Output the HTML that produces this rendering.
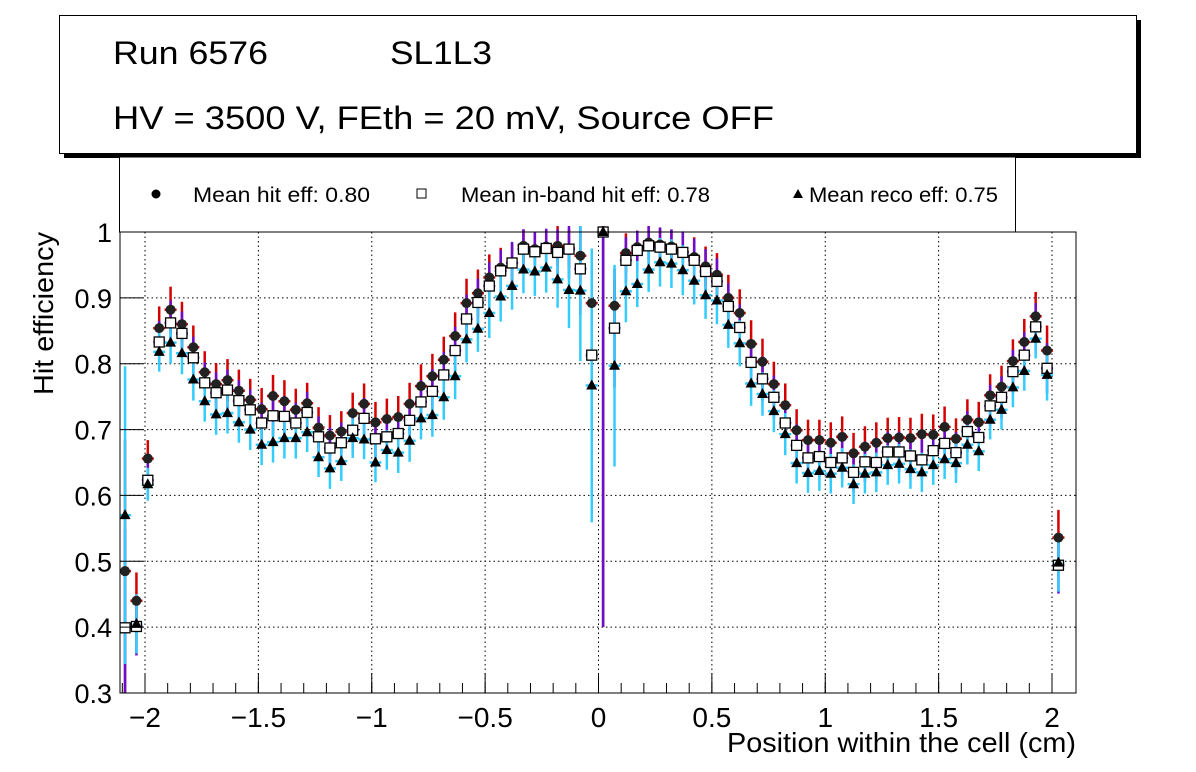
<!DOCTYPE html>
<html><head><meta charset="utf-8"><style>
html,body{margin:0;padding:0;background:#fff;}
svg{display:block;font-family:"Liberation Sans",sans-serif;}
</style></head><body>
<svg id="chart" width="1196" height="772" viewBox="0 0 1196 772" xmlns="http://www.w3.org/2000/svg">
<rect x="0" y="0" width="1196" height="772" fill="#fff"/>
<g>
<rect x="64" y="20" width="1077" height="138" fill="#000"/>
<rect x="59.5" y="15.5" width="1077" height="138" fill="#fff" stroke="#000" stroke-width="1"/>
<text x="113" y="64" font-size="32" textLength="155" lengthAdjust="spacingAndGlyphs">Run 6576</text>
<text x="390" y="64" font-size="32" textLength="102" lengthAdjust="spacingAndGlyphs">SL1L3</text>
<text x="113" y="129" font-size="32" textLength="661" lengthAdjust="spacingAndGlyphs">HV = 3500 V, FEth = 20 mV, Source OFF</text>
</g>
<g>
<rect x="119.5" y="157" width="896" height="75" fill="#fff" stroke="#000" stroke-width="1"/>
<circle cx="156" cy="194" r="4.5" fill="#000"/>
<text x="193" y="202" font-size="21" textLength="177" lengthAdjust="spacingAndGlyphs">Mean hit  eff: 0.80</text>
<rect x="417" y="189" width="9" height="9" fill="#fff" stroke="#000"/>
<text x="461" y="202" font-size="21" textLength="249" lengthAdjust="spacingAndGlyphs">Mean in-band hit eff: 0.78</text>
<polygon points="798,189 793,198 803,198" fill="#000"/>
<text x="809" y="202" font-size="21" textLength="189" lengthAdjust="spacingAndGlyphs">Mean reco eff: 0.75</text>
</g>
<g id="grid"></g>
<g id="marks"></g>
<g id="axes"></g>
<text transform="translate(53,232) rotate(-90)" text-anchor="end" font-size="28" textLength="163" lengthAdjust="spacingAndGlyphs">Hit efficiency</text>
<text x="1076" y="752" text-anchor="end" font-size="28" textLength="349" lengthAdjust="spacingAndGlyphs">Position within the cell (cm)</text>
</svg>
<script>
const hitEff=[0.485,0.440,0.656,0.854,0.882,0.860,0.825,0.787,0.769,0.775,0.759,0.745,0.731,0.751,0.743,0.730,0.740,0.703,0.691,0.697,0.725,0.739,0.711,0.716,0.719,0.739,0.766,0.781,0.806,0.842,0.892,0.907,0.931,0.946,0.953,0.979,0.974,0.978,0.979,0.975,0.964,0.892,1.0,0.888,0.968,0.977,0.984,0.981,0.978,0.970,0.962,0.948,0.935,0.900,0.877,0.830,0.803,0.769,0.737,0.699,0.684,0.684,0.680,0.689,0.664,0.674,0.680,0.687,0.688,0.687,0.693,0.692,0.704,0.686,0.715,0.711,0.752,0.765,0.804,0.833,0.872,0.820,0.536];
const bandEff=[0.399,0.401,0.623,0.833,0.862,0.846,0.809,0.771,0.756,0.760,0.744,0.730,0.710,0.721,0.720,0.710,0.726,0.689,0.672,0.680,0.699,0.717,0.686,0.689,0.694,0.714,0.742,0.758,0.783,0.820,0.868,0.893,0.918,0.941,0.953,0.974,0.970,0.975,0.969,0.974,0.944,0.813,1.0,0.854,0.957,0.972,0.979,0.977,0.974,0.969,0.957,0.940,0.925,0.887,0.855,0.802,0.777,0.749,0.710,0.676,0.657,0.659,0.650,0.657,0.635,0.651,0.650,0.666,0.666,0.660,0.654,0.668,0.679,0.665,0.697,0.688,0.736,0.749,0.788,0.813,0.856,0.793,0.494];
const recoEff=[0.570,0.405,0.617,0.818,0.832,0.816,0.776,0.743,0.723,0.725,0.711,0.700,0.677,0.681,0.687,0.687,0.696,0.658,0.641,0.652,0.687,0.685,0.650,0.669,0.665,0.683,0.717,0.722,0.749,0.781,0.837,0.853,0.877,0.902,0.918,0.943,0.940,0.946,0.928,0.912,0.911,0.767,1.0,0.797,0.910,0.921,0.943,0.954,0.952,0.942,0.926,0.904,0.896,0.859,0.831,0.770,0.754,0.728,0.693,0.649,0.634,0.637,0.633,0.642,0.617,0.633,0.635,0.646,0.648,0.640,0.635,0.646,0.655,0.649,0.677,0.667,0.715,0.730,0.764,0.789,0.838,0.783,0.498];
const hitErr=[0.2,0.043,0.028,0.033,0.035,0.034,0.033,0.032,0.032,0.032,0.032,0.032,0.032,0.032,0.032,0.032,0.031,0.031,0.031,0.031,0.031,0.031,0.031,0.031,0.032,0.032,0.033,0.034,0.035,0.036,0.037,0.036,0.035,0.03,0.03,0.025,0.025,0.025,0.03,0.03,0.04,0.06,0.6,0.04,0.03,0.025,0.025,0.025,0.025,0.03,0.03,0.03,0.033,0.035,0.036,0.036,0.035,0.034,0.033,0.032,0.031,0.031,0.031,0.031,0.031,0.031,0.031,0.031,0.031,0.031,0.031,0.031,0.031,0.031,0.031,0.031,0.032,0.032,0.033,0.035,0.037,0.038,0.042];
const bandErr=[0.15,0.044,0.028,0.032,0.034,0.033,0.032,0.031,0.031,0.031,0.031,0.031,0.031,0.031,0.031,0.031,0.031,0.031,0.031,0.031,0.031,0.031,0.031,0.031,0.031,0.032,0.033,0.034,0.035,0.036,0.037,0.036,0.036,0.032,0.032,0.03,0.03,0.03,0.035,0.045,0.07,0.11,0.6,0.09,0.035,0.03,0.03,0.03,0.03,0.032,0.033,0.034,0.035,0.035,0.035,0.035,0.034,0.033,0.032,0.032,0.031,0.031,0.031,0.031,0.031,0.031,0.031,0.031,0.031,0.031,0.031,0.031,0.031,0.031,0.031,0.031,0.032,0.032,0.033,0.035,0.036,0.038,0.043];
const recoErr=[0.226,0.045,0.025,0.03,0.032,0.032,0.032,0.031,0.031,0.031,0.031,0.031,0.031,0.031,0.031,0.031,0.03,0.03,0.031,0.03,0.03,0.03,0.03,0.03,0.031,0.032,0.032,0.033,0.034,0.035,0.035,0.035,0.038,0.038,0.036,0.036,0.037,0.038,0.043,0.058,0.107,0.208,0,0.153,0.047,0.035,0.034,0.037,0.037,0.038,0.036,0.036,0.036,0.035,0.035,0.034,0.033,0.032,0.032,0.031,0.03,0.03,0.03,0.03,0.03,0.03,0.03,0.03,0.03,0.03,0.03,0.03,0.03,0.03,0.03,0.03,0.03,0.03,0.03,0.03,0.03,0.039,0.044];
const xTickLabels=["\u22122","\u22121.5","\u22121","\u22120.5","0","0.5","1","1.5","2"];
const xTickValues=[-2,-1.5,-1,-0.5,0,0.5,1,1.5,2];
const yTickLabels=["0.3","0.4","0.5","0.6","0.7","0.8","0.9","1"];
const yTickValues=[0.3,0.4,0.5,0.6,0.7,0.8,0.9,1.0];
const binStart=-2.088, binWidth=0.0502;

const L=120,R=1076,T=232,B=693;
const X0=598.5, XS=226.75;
function sx(v){return X0+v*XS;}
function sy(v){return B-(v-0.3)/0.7*(B-T);}
const NS="http://www.w3.org/2000/svg";
function mk(tag,attrs,parent){const e=document.createElementNS(NS,tag);for(const k in attrs)e.setAttribute(k,attrs[k]);parent.appendChild(e);return e;}
const grid=document.getElementById('grid'),marks=document.getElementById('marks'),axes=document.getElementById('axes');
const clip=mk('clipPath',{id:'pc'},document.getElementById('chart'));
mk('rect',{x:L,y:T-6,width:R-L,height:B-T+6},clip);
marks.setAttribute('clip-path','url(#pc)');

xTickValues.forEach((v,i)=>{
  const g=mk('line',{x1:sx(v),x2:sx(v),y1:T,y2:B,stroke:'#000','stroke-width':1,'stroke-dasharray':'1.5,3'},grid);
  
  
  const t=mk('line',{x1:sx(v),x2:sx(v),y1:B,y2:B-20,stroke:'#000','stroke-width':1},axes);
  
  
  const lb=mk('text',{x:sx(v),y:727,'text-anchor':'middle','font-size':28},axes);
  lb.textContent=xTickLabels[i];
  
  
});
for(let v=-2.1;v<=2.1;v+=0.1){
  const px=sx(v); if(px<L||px>R) continue;
  const m=mk('line',{x1:px,x2:px,y1:B,y2:B-10,stroke:'#000','stroke-width':1},axes);
  
  
}
yTickValues.forEach((v,i)=>{
  const g=mk('line',{x1:L,x2:R,y1:sy(v),y2:sy(v),stroke:'#000','stroke-width':1,'stroke-dasharray':'1.5,3'},grid);
  
  
  const t=mk('line',{x1:L,x2:L+23,y1:sy(v),y2:sy(v),stroke:'#000','stroke-width':1},axes);
  
  
  const lb=mk('text',{x:112,y:sy(v)+10,'text-anchor':'end','font-size':27},axes);
  lb.textContent=yTickLabels[i];
  
  
});
const fr=mk('rect',{x:L,y:T,width:R-L,height:B-T,fill:'none',stroke:'#000','stroke-width':1},axes);



function errBars(vals,errs,color,name){
  vals.forEach((v,i)=>{
    const x=sx(binStart+i*binWidth);
    const e=errs[i];
    const l=mk('line',{x1:x,x2:x,y1:sy(Math.min(v+e,1.02)),y2:sy(Math.max(v-e,0.28)),stroke:color,'stroke-width':2.5},marks);
    
    
    const h=mk('line',{x1:x-6,x2:x+6,y1:sy(v),y2:sy(v),stroke:color,'stroke-width':2.5},marks);
    
    
  });
}
errBars(hitEff,hitErr,'#d40000','hit');
errBars(bandEff,bandErr,'#6a0dcc','inband');
errBars(recoEff,recoErr,'#33ccff','reco');
hitEff.forEach((v,i)=>{
  const c=mk('circle',{cx:sx(binStart+i*binWidth),cy:sy(v),r:5,fill:'#222'},marks);
  
  
});
bandEff.forEach((v,i)=>{
  const x=sx(binStart+i*binWidth),y=sy(v);
  const r=mk('rect',{x:x-5,y:y-5,width:10,height:10,fill:'#fff',stroke:'#000','stroke-width':1.3},marks);
  
  
});
recoEff.forEach((v,i)=>{
  const x=sx(binStart+i*binWidth),y=sy(v);
  const p=mk('polygon',{points:`${x},${y-6} ${x-5.5},${y+4} ${x+5.5},${y+4}`,fill:'#000'},marks);
  
  
});
</script>
</body></html>
